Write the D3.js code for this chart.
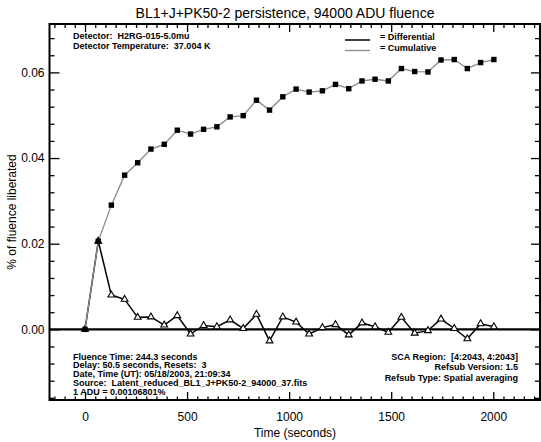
<!DOCTYPE html>
<html lang="en">
<head>
<meta charset="UTF-8">
<title>persistence</title>
<script src="https://d3js.org/d3.v7.min.js"></script>
<style>
  body { margin: 0; background: #fff; }
  svg { display: block; font-family: "Liberation Sans", Arial, sans-serif; }
  .note { font-size: 9px; font-weight: bold; fill: #000; }
  .tick text { font-size: 12px; font-family: "Liberation Sans", Arial, sans-serif; }
</style>
</head>
<body>
<svg></svg>
<script>
// readings
const times = [0, 65, 129, 194, 258, 323, 388, 452, 517, 581, 646, 711, 775, 840, 904, 969,
  1034, 1098, 1163, 1227, 1292, 1357, 1421, 1486, 1550, 1615, 1680, 1744, 1809, 1873, 1938, 2003];
const differential = [0, 0.0206, 0.0080, 0.0070, 0.0028, 0.0029, 0.0010, 0.0032, -0.0011, 0.0009,
  0.0006, 0.0022, 0.0002, 0.0035, -0.0027, 0.0029, 0.0017, -0.0011, 0.0004, 0.0011, -0.0013,
  0.0015, 0.0006, -0.0007, 0.0028, -0.0009, -0.0003, 0.0024, 0.0002, -0.0022, 0.0013, 0.0006];
const cumulative = [0, 0.0206, 0.0290, 0.0360, 0.0389, 0.0421, 0.0432, 0.0465, 0.0456, 0.0467,
  0.0473, 0.0496, 0.0499, 0.0535, 0.0512, 0.0543, 0.0561, 0.0554, 0.0557, 0.0572, 0.0562,
  0.0580, 0.0584, 0.0580, 0.0609, 0.0602, 0.0601, 0.0629, 0.0630, 0.0609, 0.0623, 0.0630];
const xMajor = [0, 500, 1000, 1500, 2000];
const yMajor = [0, 0.02, 0.04, 0.06];
const topNotes = ["Detector:  H2RG-015-5.0mu", "Detector Temperature:  37.004 K"];
const leftNotes = ["Fluence Time: 244.3 seconds", "Delay: 50.5 seconds, Resets:  3",
  "Date, Time (UT): 05/18/2003, 21:09:34", "Source:  Latent_reduced_BL1_J+PK50-2_94000_37.fits",
  "1 ADU = 0.00106801%"];
const rightNotes = ["SCA Region:  [4:2043, 4:2043]", "Refsub Version: 1.5", "Refsub Type: Spatial averaging"];

const width = 541, height = 442;
const margin = {top: 24, right: 1, bottom: 42, left: 49.5};

const svg = d3.select("svg").attr("width", width).attr("height", height);

const x = d3.scaleLinear().domain([-174, 2229]).range([margin.left, width - margin.right]);
const y = d3.scaleLinear().domain([-0.0165, 0.0713]).range([height - margin.bottom, margin.top]);

const xMinor = d3.range(-150, 2250, 50).filter(v => v % 500 !== 0);
const yMinor = d3.range(-16, 72, 4).map(v => v / 1000).filter(v => Math.round(v * 1000) % 20 !== 0);

function axisG(axis, tx, ty) {
  const g = svg.append("g").attr("transform", `translate(${tx},${ty})`).call(axis);
  g.select(".domain").remove();
  g.selectAll(".tick line").attr("stroke", "#000").attr("stroke-width", 1.3);
  return g;
}

const yb = height - margin.bottom, xr = width - margin.right;
axisG(d3.axisBottom(x).tickValues(xMajor).tickSize(-8).tickPadding(12).tickFormat(d3.format("d")), 0, yb);
axisG(d3.axisBottom(x).tickValues(xMinor).tickSize(-3.5).tickFormat(""), 0, yb);
axisG(d3.axisTop(x).tickValues(xMajor).tickSize(-8).tickFormat(""), 0, margin.top);
axisG(d3.axisTop(x).tickValues(xMinor).tickSize(-4).tickFormat(""), 0, margin.top);
axisG(d3.axisLeft(y).tickValues(yMajor).tickSize(-10).tickPadding(5).tickFormat(d3.format(".2f")), margin.left, 0);
axisG(d3.axisLeft(y).tickValues(yMinor).tickSize(-5).tickFormat(""), margin.left, 0);
axisG(d3.axisRight(y).tickValues(yMajor).tickSize(-9).tickFormat(""), xr, 0);
axisG(d3.axisRight(y).tickValues(yMinor).tickSize(-5).tickFormat(""), xr, 0);

svg.selectAll(".tick text").attr("fill", "#000");

// frame
svg.append("rect")
  .attr("x", margin.left).attr("y", margin.top)
  .attr("width", xr - margin.left).attr("height", yb - margin.top)
  .attr("fill", "none").attr("stroke", "#000").attr("stroke-width", 2);

// zero line
svg.append("line")
  .attr("x1", margin.left).attr("x2", xr)
  .attr("y1", y(0)).attr("y2", y(0))
  .attr("stroke", "#000").attr("stroke-width", 2.2);

const line = d3.line().x(d => x(d[0])).y(d => y(d[1]));
const diffPts = times.map((t, i) => [t, differential[i]]);
const cumPts = times.map((t, i) => [t, cumulative[i]]);

svg.append("path").datum(diffPts).attr("d", line)
  .attr("fill", "none").attr("stroke", "#000").attr("stroke-width", 1.5);
svg.selectAll(".tri").data(diffPts).join("path").attr("class", "tri")
  .attr("transform", d => `translate(${x(d[0])},${y(d[1])})`)
  .attr("d", d3.symbol(d3.symbolTriangle, 20))
  .attr("fill", "#fff").attr("stroke", "#000").attr("stroke-width", 1.1);

svg.append("path").datum(cumPts).attr("d", line)
  .attr("fill", "none").attr("stroke", "#8a8a8a").attr("stroke-width", 1.3);
svg.selectAll(".sq").data(cumPts).join("rect").attr("class", "sq")
  .attr("x", d => x(d[0]) - 2.7).attr("y", d => y(d[1]) - 2.7)
  .attr("width", 5.4).attr("height", 5.4).attr("fill", "#000");

// title and axis titles
svg.append("text").attr("x", 285).attr("y", 18).attr("text-anchor", "middle")
  .attr("font-size", 14).text("BL1+J+PK50-2 persistence, 94000 ADU fluence");
svg.append("text").attr("x", 295).attr("y", 437).attr("text-anchor", "middle")
  .attr("font-size", 12).text("Time (seconds)");
svg.append("text").attr("transform", "translate(16,212) rotate(-90)").attr("text-anchor", "middle")
  .attr("font-size", 12).text("% of fluence liberated");

// notes
svg.selectAll(".tn").data(topNotes).join("text").attr("class", "note tn")
  .attr("x", 73).attr("y", (d, i) => 39 + i * 9.5).attr("xml:space", "preserve").text(d => d);
svg.selectAll(".ln").data(leftNotes).join("text").attr("class", "note ln")
  .attr("x", 73).attr("y", (d, i) => 359.5 + i * 8.9).attr("xml:space", "preserve").text(d => d);
svg.selectAll(".rn").data(rightNotes).join("text").attr("class", "note rn")
  .attr("x", 518).attr("y", (d, i) => 360 + i * 10.4).attr("text-anchor", "end")
  .attr("xml:space", "preserve").text(d => d);

// legend
const legend = [["Differential", "#000", 1.5], ["Cumulative", "#8a8a8a", 1.3]];
legend.forEach((l, i) => {
  svg.append("line").attr("x1", 345).attr("x2", 370)
    .attr("y1", 40 + i * 10.5).attr("y2", 40 + i * 10.5)
    .attr("stroke", l[1]).attr("stroke-width", l[2]);
  svg.append("text").attr("class", "note").attr("x", 380).attr("y", 40 + i * 10.5)
    .attr("xml:space", "preserve").text("= " + l[0]);
});
</script>
</body>
</html>
